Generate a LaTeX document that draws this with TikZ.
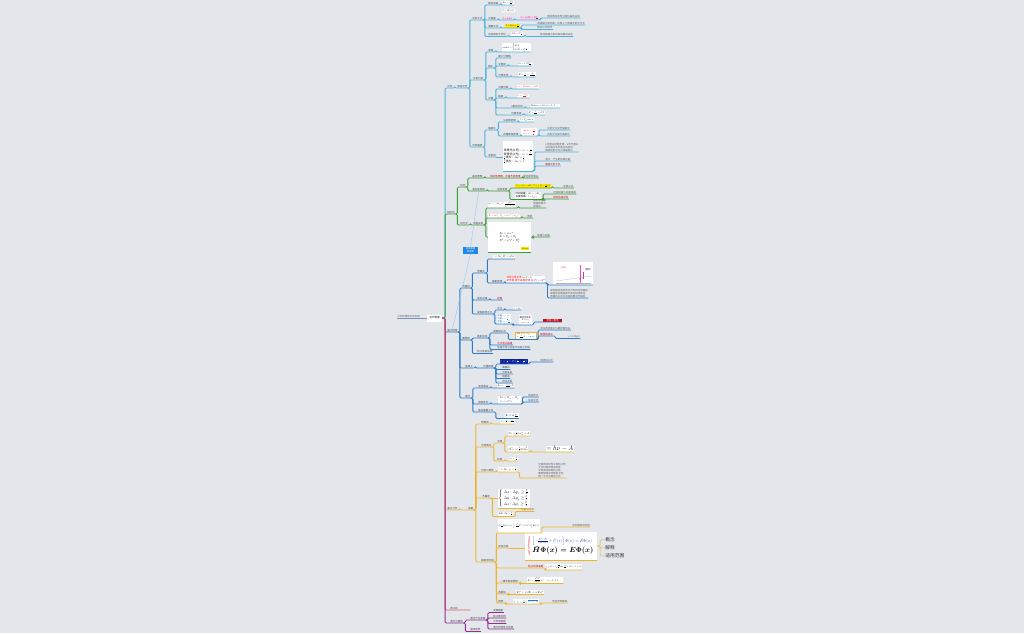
\RequirePackage{fix-cm}
\documentclass[tikz,border=0pt]{standalone}
\usepackage{amsmath,amssymb}
\usepackage{xcolor}
\usepackage{fontspec}
\usepackage{tikz}
\usetikzlibrary{positioning}

\newfontfamily\cjk{Noto Sans CJK SC}

\definecolor{bgc}{HTML}{E3E7EC}
\definecolor{tealc}{HTML}{4AB3D6}
\definecolor{greenc}{HTML}{3C9A32}
\definecolor{bluec}{HTML}{2A7BC8}
\definecolor{orangec}{HTML}{F0B429}
\definecolor{pinkc}{HTML}{E35D6A}
\definecolor{purplec}{HTML}{952D8F}
\definecolor{navyc}{HTML}{0A1E9E}
\definecolor{floatc}{HTML}{1E88E5}
\definecolor{slatec}{HTML}{7D93B5}

\tikzset{
  lbl/.style={anchor=south west, inner sep=1.5pt, font=\cjk\normalsize, text=black!75},
  redlbl/.style={lbl, text=red!80!black},
  note/.style={lbl, align=left, text=black!65},
  fml/.style={anchor=south west, fill=white, inner sep=2.5pt, font=\cjk\normalsize},
  pinkbox/.style={fml, fill=magenta!18, text=violet!80!black},
  imgbox/.style={anchor=south west, fill=white, inner sep=0pt, minimum width=160pt, minimum height=92pt},
  rootbox/.style={anchor=west, fill=white, inner sep=1pt, font=\cjk\normalsize, minimum width=60pt, minimum height=28pt},
  floatbox/.style={fill=floatc, text=white, font=\cjk\small, align=center, inner sep=1pt, minimum width=60pt, minimum height=28pt},
  link/.style={line width=0.8pt, rounded corners=1.2pt},
  tl/.style={link, draw=tealc},
  gl/.style={link, draw=greenc},
  bl/.style={link, draw=bluec},
  ol/.style={link, draw=orangec},
  pl/.style={link, draw=pinkc},
  ml/.style={link, draw=purplec},
  rel/.style={draw=bluec!45, line width=0.4pt}
}

\begin{document}
\begin{tikzpicture}[x=4pt, y=-4pt, scale=0.25, transform shape]
\useasboundingbox (0,0) rectangle (1024,633);
\fill[bgc] (0,0) rectangle (1024,633);

\node[rootbox] (root) at (427,318) {近代物理};
\node[lbl, text=black!60] (title) at (397,318) {大学物理知识体系图};
\draw[line width=0.8pt, draw=slatec] (title.south west) -- (title.south east) -- (root.west);

% optics
\node[lbl] (t0) at (447,88) {光学};
\node[lbl] (t1) at (457,88) {波动光学};
\node[lbl] (ti) at (472,20) {光的干涉};
\node[lbl] (tf) at (473,80) {光的衍射};
\node[lbl] (tp) at (472,147) {光的偏振};

\node[lbl] (ti1) at (488,5) {杨氏双缝};
\node[fml] (ti1f) at (502,5) {$\Delta x=\frac{D}{d}\lambda$};
\node[lbl] (ti2) at (488,20) {光程差};
\node[fml] (ti2a) at (502,12.5) {$\delta=\Delta(nr)$};
\node[pinkbox] (ti2b) at (502,20) {$\delta=\pm k\lambda$};
\node[pinkbox] (ti2c) at (520,20) {$\delta=\pm(2k+1)\frac{\lambda}{2}$};
\node[note] (ti2n) at (547,18) {明纹暗纹条件与相位差的关系};
\node[lbl] (ti3) at (488,28) {薄膜干涉};
\node[fml, fill=yellow!90!orange] (ti3f) at (505,28) {$\delta=2ne+\frac{\lambda}{2}$};
\node[note] (ti3n1) at (537,25) {增透膜与增反膜：利用上下表面反射光干涉};
\node[note] (ti3n2) at (537,29.5) {劈尖与牛顿环};
\node[lbl] (ti4) at (488,36.5) {迈克耳孙干涉仪};
\node[fml, text=violet] (ti4f) at (511,36.5) {$\Delta d=N\frac{\lambda}{2}$};
\node[note] (ti4n) at (540,36.5) {移动距离与条纹移动数目关系};

\node[lbl] (tf1) at (488,52) {单缝};
\node[fml] (tf1f) at (502,52) {$a\sin\theta=\begin{cases}\pm k\lambda\\ \pm(2k+1)\frac{\lambda}{2}\end{cases}$};
\node[lbl] (tf2) at (488,68) {圆孔};
\node[lbl] (tf21) at (498,58) {最小分辨角};
\node[lbl] (tf22) at (498,66) {艾里斑};
\node[fml] (tf22f) at (518,66) {$\theta_1=1.22\frac{\lambda}{D}$};
\node[lbl] (tf23) at (498,77) {分辨本领};
\node[fml] (tf23f) at (518,77) {$R=\frac{1}{\theta_1}=\frac{D}{1.22\lambda}$};
\node[lbl] (tf3) at (488,100) {光栅};
\node[lbl] (tf31) at (498,89) {光栅方程};
\node[fml, text=red] (tf31f) at (517,89) {$(a+b)\sin\theta=\pm k\lambda$};
\node[lbl] (tf32) at (498,98) {缺级};
\node[fml, text=red] (tf32f) at (517,98) {$k=\frac{a+b}{a}k'$};
\node[lbl] (tf33) at (511,108) {X射线衍射};
\node[fml] (tf33f) at (530,108) {$2d\sin\varphi=k\lambda,\ k=1,2,\cdots$};
\node[lbl] (tf34) at (511,115) {分辨本领};
\node[fml] (tf34f) at (528,115) {$R=\frac{\lambda}{\Delta\lambda}=kN$};

\node[lbl] (tp1) at (488,130) {偏振片};
\node[lbl] (tp11) at (503,122) {马吕斯定律};
\node[fml] (tp11f) at (519,122) {$I=I_0\cos^2\alpha$};
\node[lbl] (tp12) at (503,136) {布儒斯特定律};
\node[fml, text=red] (tp12f) at (521,136) {$\begin{array}{l}\tan i_0=\frac{n_2}{n_1}\\ i_0+\gamma=\frac{\pi}{2}\end{array}$};
\node[note] (tp12n1) at (547,130) {反射光为完全偏振光};
\node[note] (tp12n2) at (547,136) {折射光为部分偏振光};
\node[lbl] (tp2) at (488,157) {双折射};
\node[fml, font=\cjk\large, minimum height=118pt] (tp2f) at (503,171) {\begin{tabular}{@{}l@{}}寻常光(o光)：$n_o=\frac{c}{v_o}$\\非常光(e光)：$n_e=\frac{c}{v_e}$\\$\frac{\lambda}{4}$波片：$\Delta\varphi=\frac{\pi}{2}$\\$\frac{\lambda}{2}$波片：$\Delta\varphi=\pi$\end{tabular}};
\node[note] (tp2n1) at (545,152) {o光遵从折射定律，e光不遵从\\沿光轴方向不发生双折射\\两束折射光均为线偏振光};
\node[note] (tp2n2) at (545,161) {波片：产生附加相位差};
\node[redlbl] (tp2n3) at (545,166) {偏振光的干涉};

\draw[tl] (root.east) -- ++(3,0) |- (t0.south west) -- (t0.south east);
\foreach \a/\b in {t0/t1, t1/ti, t1/tf, t1/tp,
  ti/ti1, ti/ti2, ti/ti3, ti/ti4, ti1/ti1f, ti2/ti2b, ti2b/ti2c, ti2c/ti2n,
  ti3/ti3f, ti3f/ti3n1, ti3f/ti3n2, ti4/ti4f, ti4f/ti4n,
  tf/tf1, tf/tf2, tf/tf3, tf1/tf1f, tf2/tf21, tf2/tf22, tf2/tf23, tf22/tf22f, tf23/tf23f,
  tf3/tf31, tf3/tf32, tf3/tf33, tf3/tf34, tf31/tf31f, tf32/tf32f, tf33/tf33f, tf34/tf34f,
  tp/tp1, tp1/tp11, tp1/tp12, tp11/tp11f, tp12/tp12f, tp12f/tp12n1, tp12f/tp12n2, tp/tp2}
  \draw[tl] (\a.south east) -- ++(2,0) |- (\b.south west) -- (\b.south east);
\draw[tl] (tp2.south east) -- (tp2.south east -| tp2f.west);
\draw[tl] (tp2f.south west) -- (tp2f.south east);
\foreach \b in {tp2n1, tp2n2, tp2n3}
  \draw[tl] (tp2f.south east) -- ++(2,0) |- (\b.south west) -- (\b.south east);

% relativity
\node[lbl] (g0) at (447,214) {相对论};
\node[lbl] (g1) at (460,187) {时空};
\node[lbl] (g11) at (472,178) {基本原理};
\node[redlbl] (g11r) at (490,178) {相对性原理、光速不变原理};
\node[note] (g11n) at (523,178) {爱因斯坦假设};
\node[lbl] (g12) at (472,191) {洛伦兹变换};
\node[lbl] (g121) at (497,191) {坐标变换};
\node[fml, fill=yellow!90!orange] (g1211) at (515,188) {$x'=\gamma(x-ut),\ t'=\gamma\left(t-\frac{u}{c^2}x\right)$};
\node[note] (g1211n) at (563,188) {变换公式};
\node[fml] (g1212) at (515,199.5) {\begin{tabular}{@{}l@{}}时间延缓：$\Delta t=\gamma\,\Delta t_0$\\长度收缩：$l=l_0/\gamma$\end{tabular}};
\node[note] (g1212n1) at (553,194) {时间延缓与长度收缩};
\node[redlbl] (g1212n2) at (553,199) {同时的相对性};
\node[lbl] (g2) at (460,225) {动力学};
\node[lbl] (g21) at (473,225) {质能关系};
\node[fml, font=\cjk\large] (g211) at (488,208) {$m=\gamma m_0=\frac{m_0}{\sqrt{1-v^2/c^2}}$};
\node[note] (g211n) at (533,208) {相对论质量\\随速度增大\\而增加};
\node[fml, text=red] (g212) at (488,218) {$E=mc^2,\ E_k=mc^2-m_0c^2$};
\node[note] (g212n) at (527,218) {质能};
\node[fml, font=\cjk\large, minimum width=172pt, minimum height=118pt] (g213) at (488,252) {\begin{tabular}{@{}l@{}}$E_0=m_0c^2$\\$E=E_k+E_0$\\$E^2=p^2c^2+E_0^2$\end{tabular}};
\node[fml, font=\cjk\small, fill=yellow!90!orange, anchor=south east] (g213y) at (529,250.5) {$E\!=\!pc$};
\node[note] (g213n) at (537,237) {能量与动量};

\draw[gl] (root.east) -- ++(3,0) |- (g0.south west) -- (g0.south east);
\foreach \a/\b in {g0/g1, g0/g2, g1/g11, g1/g12, g11/g11r, g11r/g11n, g12/g121,
  g121/g1211, g121/g1212, g1211/g1211n, g1212/g1212n1, g1212/g1212n2,
  g2/g21, g21/g211, g21/g212, g211/g211n, g212/g212n}
  \draw[gl] (\a.south east) -- ++(2,0) |- (\b.south west) -- (\b.south east);
\draw[gl] (g21.south east) -- ++(2,0) |- (g213.west);
\draw[gl] (g213.south west) -- (g213.south east);
\draw[gl] (g213.east) -- ++(2,0) |- (g213n.south west) -- (g213n.south east);

% quantum
\node[lbl] (b0) at (447,332) {量子物理};
\node[floatbox] (fl) at (470.5,250.5) {经典物理\\的困难};
\node[lbl] (b1) at (462,288) {热辐射};
\node[lbl] (b11) at (477,273) {普朗克};
\node[fml, font=\cjk\large] (b111) at (492,259) {$\varepsilon=h\nu,\ E=nh\nu$};
\node[lbl] (b112) at (492,283) {辐射定律};
\node[fml] (b112f) at (506,283) {\begin{tabular}{@{}l@{}}{\color{red}维恩位移定律} $\lambda_mT=b$\\{\color{red}斯特藩-玻尔兹曼定律} $M(T)=\sigma T^4$\end{tabular}};
\node[imgbox] (b112i) at (553,285) {};
\draw[gray!60, line width=0.3pt] (556,281) -- (591,276);
\draw[gray!60, line width=0.3pt] (556,283) -- (591,283);
\draw[magenta!70, line width=0.4pt] (580,265) -- (580,283);
\draw[violet!70, line width=0.4pt] (583,272) -- (583,279);
\fill[red] (580,279) circle (0.6);
\node[font=\cjk\normalsize, text=magenta!80] (b112i1) at (563,268) {入射};
\node[font=\cjk\normalsize, text=violet] (b112i2) at (588,270) {散射};
\node[note] (b112n) at (550,298) {单色辐出度按波长分布的实验曲线\\峰值波长随温度升高向短波移动\\普朗克公式与实验结果完全相符};
\node[lbl] (b12) at (477,300) {紫外灾难};
\node[redlbl] (b12r) at (497,300) {经典};
\node[lbl] (b13) at (477,314) {爱因斯坦光子};
\node[lbl] (b131) at (497,310) {光子};
\node[fml] (b131f) at (513,310) {$\varepsilon=h\nu$};
\node[fml, font=\cjk\small, text=bluec] (b132) at (497,324) {\begin{tabular}{@{}l@{}}能量 $\varepsilon=h\nu$\\动量 $p=\frac{h}{\lambda}$\\质量 $m=\frac{h\nu}{c^2}$\end{tabular}};
\node[fml, font=\cjk\small] (b133) at (519,325) {\begin{tabular}{@{}c@{}}相对论关系\\$E=pc$\\$m_0=0$\end{tabular}};
\node[anchor=south west, fill=red!85!black, text=white, font=\cjk\normalsize, inner sep=1.5pt, minimum width=76pt] (b134) at (543,322) {波粒二象性};
\node[lbl] (b2) at (462,340) {康普顿};
\node[lbl] (b21) at (477,338) {散射实验};
\node[lbl] (b211) at (493,333) {康普顿公式};
\node[fml, font=\cjk\small, draw=orangec, line width=0.4pt] (b211f) at (515,339.5) {$\begin{array}{l}\Delta\lambda=\lambda-\lambda_0\\ =\frac{h}{m_0c}(1-\cos\varphi)\end{array}$};
\node[note] (b211n1) at (540,330) {波长改变量只与散射角有关};
\node[redlbl] (b211n2) at (540,336) {康普顿波长};
\node[note] (b211n3) at (567,338.5) {$\lambda_c$=2.43pm};
\node[redlbl] (b212) at (497,345) {光子电子碰撞};
\node[note] (b213) at (497,349.5) {能量守恒与动量守恒联立求解};
\node[lbl] (b22) at (477,353.5) {粒子性的证明};
\node[lbl] (b3) at (465,368) {氢原子};
\node[lbl] (b31) at (483,368) {光谱规律};
\node[fml, font=\large, fill=navyc, text=white] (b311) at (500,364) {$\tilde\nu=\frac{1}{\lambda}=R\left(\frac{1}{k^2}-\frac{1}{n^2}\right)$};
\node[note] (b311n) at (540,362) {里德伯公式};
\node[lbl] (b312) at (502,369.5) {莱曼系};
\node[lbl] (b313) at (502,374) {巴耳末系};
\node[lbl] (b314) at (502,378.5) {帕邢系};
\node[lbl] (b315) at (502,383) {布拉开系};
\node[lbl] (b4) at (465,398) {玻尔};
\node[lbl] (b41) at (478,388) {定态假设};
\node[fml] (b41f) at (497,388) {$E_n=-\frac{13.6}{n^2}\,\mathrm{eV}$};
\node[lbl] (b42) at (478,404) {频率条件};
\node[fml, font=\cjk\large] (b42f) at (498,404) {$\begin{array}{l}h\nu=E_m-E_n\\ r_n=n^2r_1\end{array}$};
\node[note] (b42n1) at (528,397) {能级跃迁};
\node[note] (b42n2) at (528,402) {轨道半径};
\node[lbl] (b43) at (478,412) {角动量量子化};
\node[fml, font=\large] (b43f) at (505,418.5) {$\boldsymbol{L=n\frac{h}{2\pi}}$};

\draw[bl] (root.east) -- ++(3,0) |- (b0.south west) -- (b0.south east);
\foreach \a/\b in {b0/b1, b0/b2, b0/b3, b0/b4, b1/b11, b1/b12, b1/b13,
  b11/b111, b11/b112, b112/b112f, b112f/b112i, b112f/b112n, b12/b12r,
  b13/b131, b13/b132, b131/b131f, b132/b133, b133/b134,
  b2/b21, b2/b22, b21/b211, b21/b212, b21/b213, b211/b211f,
  b211f/b211n1, b211f/b211n2, b211n2/b211n3,
  b3/b31, b31/b311, b31/b312, b31/b313, b31/b314, b31/b315, b311/b311n,
  b4/b41, b4/b42, b4/b43, b41/b41f, b42/b42f, b42f/b42n1, b42f/b42n2, b43/b43f}
  \draw[bl] (\a.south east) -- ++(2,0) |- (\b.south west) -- (\b.south east);
\draw[rel] (fl.north) -- (g12.south);
\draw[rel] (fl.south) -- (b0.north);

% quantum mechanics
\node[lbl] (o0) at (447,510) {量子力学};
\node[lbl] (o1) at (468,510) {基础};
\node[lbl] (o11) at (481,424) {物质波};
\node[fml] (o11f) at (500,424) {$\lambda=\frac{h}{p}=\frac{h}{mv}$};
\node[lbl] (o12) at (481,447) {光电效应};
\node[lbl] (o121) at (497,443) {方程};
\node[fml, font=\large] (o1211) at (508,436) {$h\nu=\frac{1}{2}mv_m^2+A$};
\node[fml, font=\Large] (o1212) at (508,452) {$eU_a=\frac{1}{2}mv_m^2$};
\node[fml, font=\fontsize{26}{28}\selectfont] (o1212b) at (546,452) {$=h\nu-A$};
\node[lbl] (o122) at (497,461) {红限};
\node[fml] (o122f) at (509,461) {$\nu_0=\frac{A}{h}$};
\node[lbl] (o13) at (481,472) {光的二象性};
\node[fml, font=\large] (o13f) at (498,472) {$\varepsilon=h\nu,\ p=\frac{h}{\lambda}$};
\node[note] (o13n) at (538,478) {光既有波动性又有粒子性\\干涉衍射体现波动性\\光电效应体现粒子性\\康普顿效应体现粒子性\\统一于光子概念之中};
\node[lbl] (o14) at (482,498) {不确定};
\node[fml, font=\LARGE] (o141) at (498,508) {$\left\{\begin{array}{l}\Delta x\cdot\Delta p_x\ge\frac{\hbar}{2}\\[2pt] \Delta y\cdot\Delta p_y\ge\frac{\hbar}{2}\\[2pt] \Delta z\cdot\Delta p_z\ge\frac{\hbar}{2}\end{array}\right.$};
\node[fml] (o142) at (498,516.5) {$\Delta E\cdot\Delta t\ge\frac{\hbar}{2}$};
\node[note] (o142n) at (521,511.5) {能量与时间};
\node[lbl] (o15) at (481,562) {薛定谔方程};
\node[fml, font=\small, minimum height=56pt] (o151) at (498,533) {$i\hbar\frac{\partial}{\partial t}\Psi(\vec r,t)=\left[-\frac{\hbar^2}{2m}\nabla^2+U(\vec r,t)\right]\Psi(\vec r,t)$};
\node[note] (o151n) at (572,527) {含时薛定谔方程};
\node[lbl] (o152) at (498,548) {定态方程};
\node[fml, font=\fontsize{18}{22}\selectfont, minimum width=288pt, minimum height=112pt] (o152f) at (525,560) {$\color{red}\left\{\begin{array}{l}\color{navyc}\left[-\frac{\hbar^2}{2m}\frac{d^2}{dx^2}+U(x)\right]\Phi(x)=E\Phi(x)\\[7pt] \color{black}\mbox{\fontsize{30}{32}\selectfont$\boldsymbol{\hat H\Phi(x)=E\Phi(x)}$}\end{array}\right.$};
\node[lbl, font=\cjk\fontsize{19}{22}\selectfont, text=black!80] (o152a) at (605,542.5) {概念};
\node[lbl, font=\cjk\fontsize{19}{22}\selectfont, text=black!80] (o152b) at (605,550.5) {解释};
\node[lbl, font=\cjk\fontsize{19}{22}\selectfont, text=black!80] (o152c) at (605,558.5) {适用范围};
\node[redlbl] (o153r) at (528,568) {粒子的波函数};
\node[fml] (o153g) at (545,570) {$\psi_n(x)=\sqrt{\tfrac{2}{a}}\sin\tfrac{n\pi}{a}x\ \ (0<x<a)$};
\node[lbl] (o153) at (500,583) {一维无限深势阱};
\node[fml] (o153f) at (527,583.5) {$E_n=\dfrac{\pi^2\hbar^2}{2ma^2}\,n^2,\quad n=1,2,3,\cdots$};
\node[lbl] (o154) at (498,594) {态叠加};
\node[fml, font=\large] (o154f) at (515,594.5) {$|\Psi|^2=|c_1\Psi_1+c_2\Psi_2|^2$};
\node[lbl] (o155) at (498,603) {隧穿};
\node[fml, font=\large, text=bluec] (o155f) at (513,604) {$T\approx e^{-\frac{2a}{\hbar}\sqrt{2m(U_0-E)}}$};
\node[note] (o155n) at (552,603) {势垒贯穿概率};

\draw[ol] (root.east) -- ++(3,0) |- (o0.south west) -- (o0.south east);
\foreach \a/\b in {o0/o1, o1/o11, o1/o12, o1/o13, o1/o14, o1/o15, o11/o11f,
  o12/o121, o12/o122, o121/o1211, o121/o1212, o1212/o1212b, o122/o122f,
  o13/o13f, o13f/o13n, o14/o142, o142/o142n,
  o15/o151, o15/o152, o15/o153r, o15/o153, o15/o154, o15/o155, o151/o151n,
  o153r/o153g, o153/o153f, o154/o154f, o155/o155f, o155f/o155n}
  \draw[ol] (\a.south east) -- ++(2,0) |- (\b.south west) -- (\b.south east);
\draw[ol] (o14.south east) -- (o14.south east -| o141.west);
\draw[ol] (o141.south west) -- (o141.south east);
\draw[ol] (o152.south east) -- (o152.south east -| o152f.west);
\draw[ol] (o152f.south west) -- (o152f.south east);
\foreach \b in {o152a, o152b, o152c}
  \draw[ol, line width=0.4pt] (o152f.east) -- ++(3,0) |- (\b.west);

% nucleus, laser
\node[lbl] (p0) at (450,610) {原子核};
\node[lbl] (m0) at (450,623) {激光与固体};
\node[lbl] (m1) at (470,620) {激光产生原理};
\node[lbl] (m11) at (493,612.5) {受激辐射};
\node[lbl] (m12) at (493,618) {粒子数反转};
\node[lbl] (m13) at (493,623.5) {光学谐振腔};
\node[lbl] (m14) at (493,629) {激光的特性与应用};
\node[lbl] (m2) at (470,631.5) {固体能带};

\draw[pl] (root.east) -- ++(3,0) |- (p0.south west) -- (p0.south east) -- ++(12,0);
\draw[ml] (root.east) -- ++(3,0) |- (m0.south west) -- (m0.south east);
\foreach \a/\b in {m0/m1, m0/m2, m1/m11, m1/m12, m1/m13, m1/m14}
  \draw[ml] (\a.south east) -- ++(2,0) |- (\b.south west) -- (\b.south east);
\end{tikzpicture}
\end{document}
